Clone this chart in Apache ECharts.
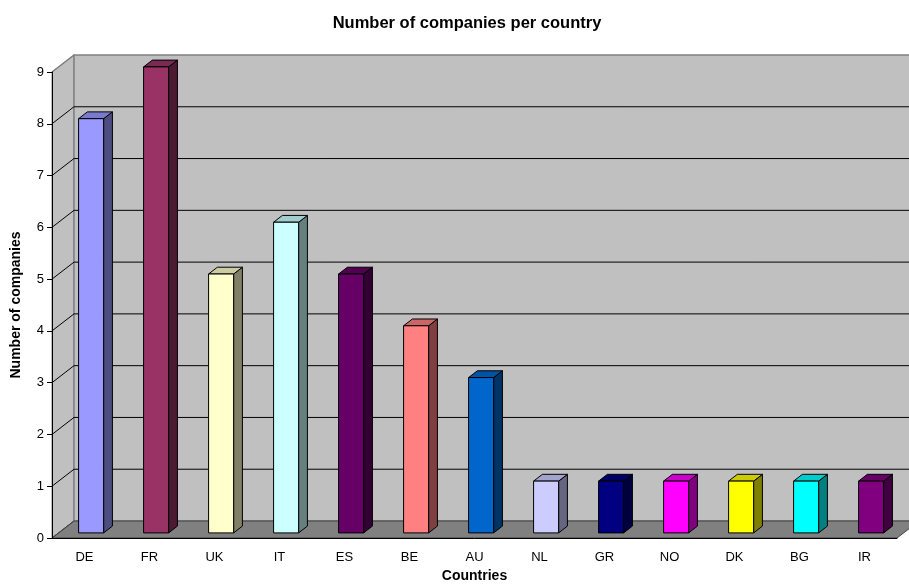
<!DOCTYPE html>
<html><head><meta charset="utf-8">
<script src="https://cdn.jsdelivr.net/npm/echarts@6/dist/echarts.min.js"></script>
<style>html,body{margin:0;padding:0;background:#fff}#c{width:909px;height:584px}</style>
</head><body><div id="c"></div>
<script>
var categories = ['DE','FR','UK','IT','ES','BE','AU','NL','GR','NO','DK','BG','IR'];
var values = [8, 9, 5, 6, 5, 4, 3, 1, 1, 1, 1, 1, 1];
var colors = ['#9999ff','#993366','#ffffcc','#ccffff','#660066','#ff8080','#0066cc','#ccccff','#000080','#ff00ff','#ffff00','#00ffff','#800080'];
var yTicks = [0,1,2,3,4,5,6,7,8,9];

var DX = 22, DY = -17;          // depth offset of the 3D box
var F0 = 0.3, F1 = 0.7;         // bar depth fraction
var BAR_FRAC = 0.385;

function shade(hex, k){
  var r=parseInt(hex.substr(1,2),16), g=parseInt(hex.substr(3,2),16), b=parseInt(hex.substr(5,2),16);
  return 'rgb('+Math.round(r*k)+','+Math.round(g*k)+','+Math.round(b*k)+')';
}

var FONT = 'Liberation Sans, Arial, sans-serif';
var chart = echarts.init(document.getElementById('c'));
chart.setOption({
  animation:false,
  title:{text:'Number of companies per country', left:462, top:10, textAlign:'center',
    textStyle:{fontFamily:FONT, fontSize:16.5, fontWeight:'bold', color:'#000'}},
  grid:{left:52, right:12, top:72, bottom:46, containLabel:false, outerBoundsMode:'none'},
  xAxis:{type:'category', data:categories, name:'Countries', nameLocation:'middle', nameGap:31,
    nameTextStyle:{fontFamily:FONT, fontSize:14, fontWeight:'bold', color:'#000'},
    axisLine:{lineStyle:{color:'#000', width:1}}, axisTick:{length:6, lineStyle:{color:'#000'}},
    axisLabel:{fontFamily:FONT, fontSize:13, color:'#000', margin:13, interval:0},
    splitLine:{show:false}, z:10},
  yAxis:{type:'value', min:0, max:9, interval:1, name:'Number of companies', nameLocation:'middle', nameGap:29,
    nameTextStyle:{fontFamily:FONT, fontSize:14, fontWeight:'bold', color:'#000'},
    axisLine:{show:true, lineStyle:{color:'#000'}}, axisTick:{show:true, length:5, lineStyle:{color:'#000'}},
    axisLabel:{fontFamily:FONT, fontSize:13, color:'#000', margin:8, formatter:function(v){return yTicks.indexOf(v)>=0?String(v):'';}},
    splitLine:{show:false}, z:10},
  series:[
    {type:'custom', clip:false, z:1, data:[[0,0]],
      renderItem:function(params, api){
        var cs = params.coordSys;
        var x0 = cs.x, x1 = cs.x+cs.width, yb = api.coord([0,0])[1], yt = api.coord([0,9])[1];
        var ch = [];
        ch.push({type:'polygon', shape:{points:[[x0,yb],[x0,yt],[x0+DX,yt+DY],[x0+DX,yb+DY]]},
          style:{fill:'#c0c0c0', stroke:'#808080', lineWidth:1}});
        ch.push({type:'polygon', shape:{points:[[x0+DX,yb+DY],[x0+DX,yt+DY],[x1+DX,yt+DY],[x1+DX,yb+DY]]},
          style:{fill:'#c0c0c0', stroke:'#808080', lineWidth:1.5}});
        ch.push({type:'polygon', shape:{points:[[x0,yb],[x1,yb],[x1+DX,yb+DY],[x0+DX,yb+DY]]},
          style:{fill:'#808080', stroke:'#404040', lineWidth:1}});
        for (var i=1;i<yTicks.length-1;i++){
          var y = api.coord([0,yTicks[i]])[1];
          ch.push({type:'line', shape:{x1:x0,y1:y,x2:x0+DX,y2:y+DY}, style:{stroke:'#000', lineWidth:1}});
          ch.push({type:'line', shape:{x1:x0+DX,y1:y+DY,x2:x1+DX,y2:y+DY}, style:{stroke:'#000', lineWidth:1}});
        }
        var y9 = api.coord([0,9])[1];
        ch.push({type:'line', shape:{x1:x0,y1:y9,x2:x0+DX,y2:y9+DY}, style:{stroke:'#808080', lineWidth:1.5}});
        ch.push({type:'line', shape:{x1:x0,y1:yb,x2:x0+DX,y2:yb+DY}, style:{stroke:'#404040', lineWidth:1}});
        return {type:'group', children:ch};
      }
    },
    {type:'custom', clip:false, z:5, data:values.map(function(v,i){return [i,v];}),
      renderItem:function(params, api){
        var i = api.value(0), v = api.value(1);
        var p0 = api.coord([i,0]), p1 = api.coord([i,v]);
        var bw = api.size([1,0])[0]*BAR_FRAC;
        var ox = DX*F0, oy = DY*F0, sx = DX*(F1-F0), sy = DY*(F1-F0);
        var L = p0[0]-bw/2+ox, R = p0[0]+bw/2+ox, B = p0[1]+oy, T = p1[1]+oy;
        var c = colors[i];
        var st = {stroke:'#000', lineWidth:1, lineJoin:'round'};
        return {type:'group', children:[
          {type:'polygon', shape:{points:[[R,B],[R,T],[R+sx,T+sy],[R+sx,B+sy]]}, style:Object.assign({fill:shade(c,0.5)},st)},
          {type:'polygon', shape:{points:[[L,T],[R,T],[R+sx,T+sy],[L+sx,T+sy]]}, style:Object.assign({fill:shade(c,0.8)},st)},
          {type:'rect', shape:{x:L,y:T,width:R-L,height:B-T}, style:Object.assign({fill:c},st)}
        ]};
      }
    }
  ]
});
</script></body></html>
